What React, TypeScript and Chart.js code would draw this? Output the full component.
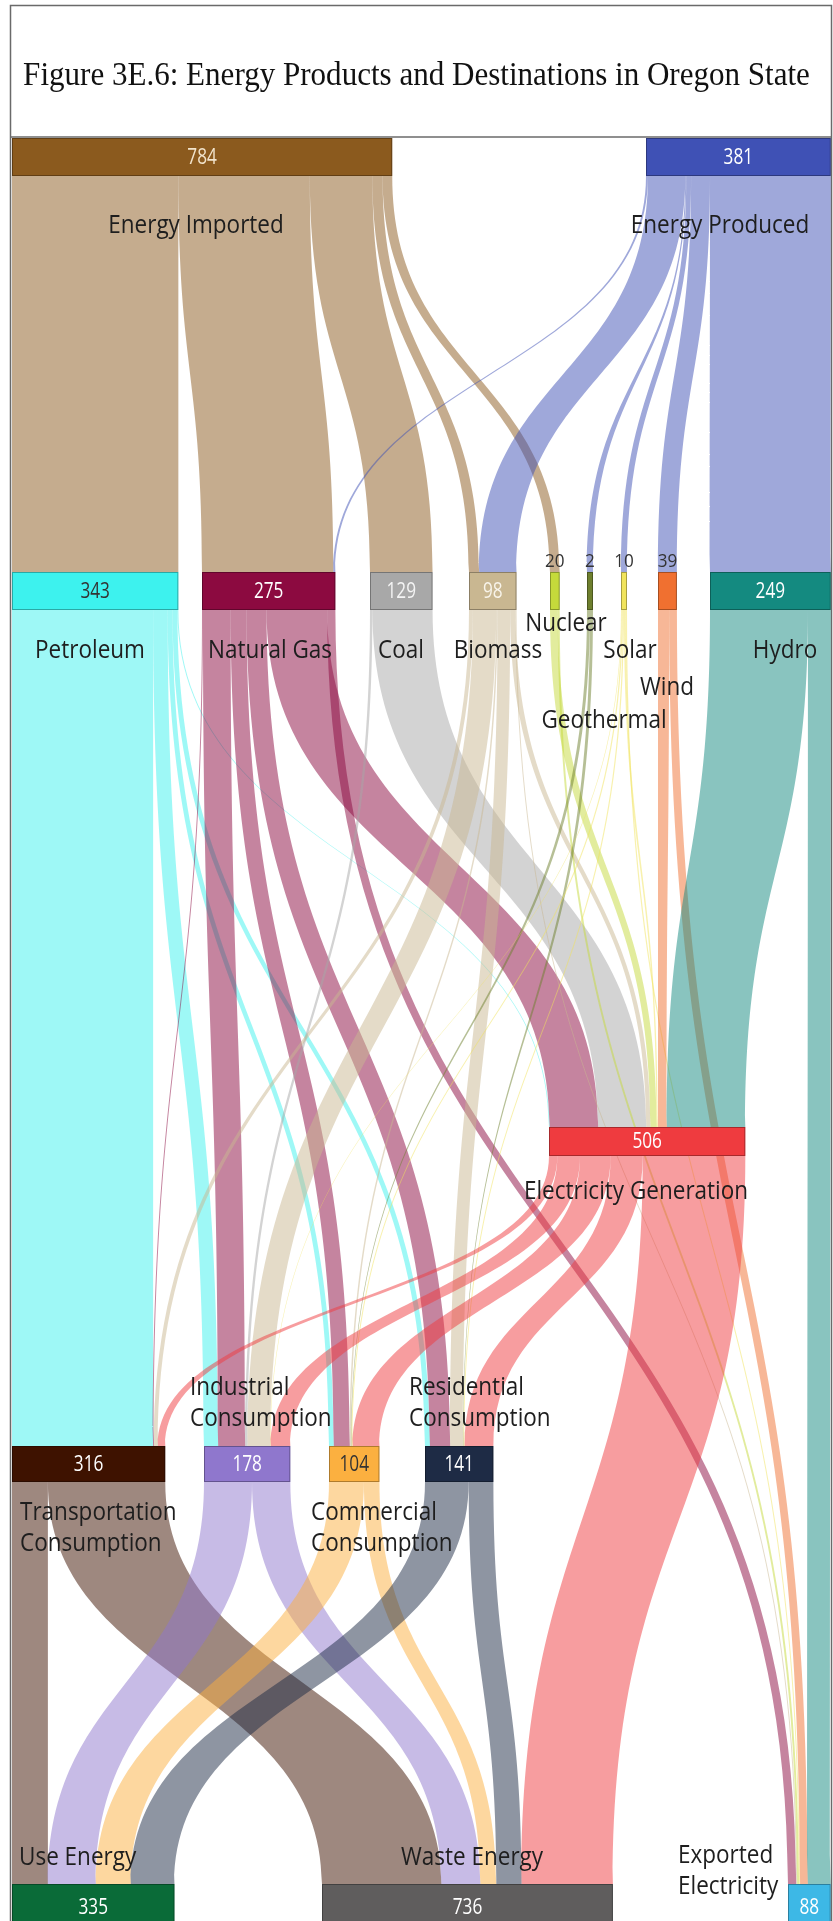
import React, { useEffect, useRef } from 'react';
import { Chart, registerables } from 'chart.js';

Chart.register(...registerables);

// ---------------- DATA ----------------
const TITLE = 'Figure 3E.6: Energy Products and Destinations in Oregon State';

const nodeNames = [
  'Energy Imported', 'Energy Produced',
  'Petroleum', 'Natural Gas', 'Coal', 'Biomass', 'Nuclear', 'Geothermal', 'Solar', 'Wind', 'Hydro',
  'Electricity Generation',
  'Transportation Consumption', 'Industrial Consumption', 'Commercial Consumption', 'Residential Consumption',
  'Use Energy', 'Waste Energy', 'Exported Electricity',
];
const nodeValues = [784, 381, 343, 275, 129, 98, 20, 2, 10, 39, 249, 506, 316, 178, 104, 141, 335, 736, 88];

const linkFrom = [
  'Energy Imported', 'Energy Imported', 'Energy Imported', 'Energy Imported', 'Energy Imported',
  'Energy Produced', 'Energy Produced', 'Energy Produced', 'Energy Produced', 'Energy Produced', 'Energy Produced',
  'Petroleum', 'Petroleum', 'Petroleum', 'Petroleum', 'Petroleum',
  'Natural Gas', 'Natural Gas', 'Natural Gas', 'Natural Gas', 'Natural Gas', 'Natural Gas',
  'Coal', 'Coal',
  'Biomass', 'Biomass', 'Biomass', 'Biomass', 'Biomass', 'Biomass',
  'Nuclear', 'Nuclear',
  'Geothermal', 'Geothermal',
  'Solar', 'Solar', 'Solar', 'Solar', 'Solar',
  'Wind', 'Wind',
  'Hydro', 'Hydro',
  'Electricity Generation', 'Electricity Generation', 'Electricity Generation', 'Electricity Generation', 'Electricity Generation',
  'Transportation Consumption', 'Transportation Consumption',
  'Industrial Consumption', 'Industrial Consumption',
  'Commercial Consumption', 'Commercial Consumption',
  'Residential Consumption', 'Residential Consumption',
];
const linkTo = [
  'Petroleum', 'Natural Gas', 'Coal', 'Biomass', 'Nuclear',
  'Natural Gas', 'Biomass', 'Geothermal', 'Solar', 'Wind', 'Hydro',
  'Transportation Consumption', 'Industrial Consumption', 'Commercial Consumption', 'Residential Consumption', 'Electricity Generation',
  'Transportation Consumption', 'Industrial Consumption', 'Commercial Consumption', 'Residential Consumption', 'Electricity Generation', 'Exported Electricity',
  'Industrial Consumption', 'Electricity Generation',
  'Transportation Consumption', 'Industrial Consumption', 'Commercial Consumption', 'Residential Consumption', 'Electricity Generation', 'Exported Electricity',
  'Electricity Generation', 'Exported Electricity',
  'Commercial Consumption', 'Residential Consumption',
  'Industrial Consumption', 'Commercial Consumption', 'Residential Consumption', 'Electricity Generation', 'Exported Electricity',
  'Electricity Generation', 'Exported Electricity',
  'Electricity Generation', 'Exported Electricity',
  'Transportation Consumption', 'Industrial Consumption', 'Commercial Consumption', 'Residential Consumption', 'Waste Energy',
  'Use Energy', 'Waste Energy',
  'Use Energy', 'Waste Energy',
  'Use Energy', 'Waste Energy',
  'Use Energy', 'Waste Energy',
];
const linkValues = [
  343, 271, 129, 21, 20,
  4, 77, 2, 10, 39, 249,
  291, 30, 10, 10, 2,
  2, 57, 33, 41, 125, 17,
  5, 124,
  8, 48, 3, 26, 11, 2,
  16, 4,
  1, 1,
  1, 2, 2, 3, 2,
  23, 16,
  202, 47,
  15, 41, 55, 58, 185,
  74, 242,
  99, 79,
  72, 32,
  90, 51,
];

// ---------------- LAYOUT / STYLE ----------------
const CW = 833;
const CH = 1921;
const UNIT = 0.485; // layout units per energy unit
const MIN_W = 6;
const rowTop = [138, 572, 1127, 1446, 1884];
const rowBottom = [176, 610, 1156, 1482, 1930];
const nodeRow = [0, 0, 1, 1, 1, 1, 1, 1, 1, 1, 1, 2, 3, 3, 3, 3, 4, 4, 4];
const nodeLeft = [12, 646, 12, 202, 370, 469, 550, 587, 621, 658, 710, 549, 12, 204, 329, 425, 12, 322, 788];
const nodeSizeFactor = [1, 1, 1, 1, 1, 1, 1, 1, 1, 1, 1, 0.8, 1, 1, 1, 1, 1, 0.815, 1];
const nodeColors = [
  '#8B5A1E', '#3F51B5', '#3DF2EE', '#8C0A40', '#A8A8A8', '#C9B791', '#C5DA3B', '#6E7F2E', '#F1E45C', '#F07030', '#148A80',
  '#EF3B3F', '#3E1200', '#8F77CD', '#FBB040', '#1E2B45', '#0A6B38', '#5F5D5D', '#3DB8E6',
];
const numberColors = [
  '#F2E4CC', '#FFFFFF', '#333333', '#FFFFFF', '#F4F4F4', '#F8F4EA', '#333333', '#333333', '#333333', '#333333', '#FFFFFF',
  '#FFFFFF', '#FFFFFF', '#FFFFFF', '#333333', '#FFFFFF', '#FFFFFF', '#FFFFFF', '#FFFFFF',
];
// label anchor (x, baseline y of first line), alignment, wrap into two lines
const labelX = [196, 720, 90, 270, 401, 498, 566, 604, 630, 667, 785, 636, 20, 190, 311, 409, 19, 472, 678];
const labelY = [233, 233, 658, 658, 658, 658, 631, 728, 658, 695, 658, 1199, 1520, 1395, 1520, 1395, 1865, 1865, 1863];
const labelAlign = ['center', 'center', 'center', 'center', 'center', 'center', 'center', 'center', 'center', 'center', 'center', 'center', 'left', 'left', 'left', 'left', 'left', 'center', 'left'];
const labelWrap = [false, false, false, false, false, false, false, false, false, false, false, false, true, true, true, true, false, false, true];
const LINE_H = 31;
const SQUEEZE = 0.9;
const LINK_ALPHA = 0.5;

function rgba(hex: string, a: number) {
  const n = parseInt(hex.slice(1), 16);
  return `rgba(${(n >> 16) & 255},${(n >> 8) & 255},${n & 255},${a})`;
}

function drawText(ctx: CanvasRenderingContext2D, text: string, x: number, y: number, font: string, color: string, align: CanvasTextAlign, sx: number, baseline: CanvasTextBaseline = 'alphabetic') {
  ctx.save();
  ctx.font = font;
  ctx.fillStyle = color;
  ctx.textAlign = align;
  ctx.textBaseline = baseline;
  ctx.translate(x, y);
  ctx.scale(sx, 1);
  ctx.fillText(text, 0, 0);
  ctx.restore();
}

const sankeyPlugin = {
  id: 'sankeyDraw',
  afterDatasetsDraw(chart: any) {
    const ctx: CanvasRenderingContext2D = chart.ctx;
    const xs = chart.scales.x;
    const ys = chart.scales.y;
    const X = (v: number) => xs.getPixelForValue(v);
    const Y = (v: number) => ys.getPixelForValue(v);

    const idx: Record<string, number> = {};
    nodeNames.forEach((n, i) => (idx[n] = i));

    const links = linkValues.map((v, k) => ({ s: idx[linkFrom[k]], t: idx[linkTo[k]], v, k }));
    const widths = nodeValues.map((v, i) => Math.max(MIN_W, v * UNIT * nodeSizeFactor[i]));
    const sumIn = nodeNames.map((_, n) => links.filter((l) => l.t === n).reduce((a, l) => a + l.v, 0));
    const sumOut = nodeNames.map((_, n) => links.filter((l) => l.s === n).reduce((a, l) => a + l.v, 0));
    const inScale = widths.map((w, n) => (sumIn[n] > 0 ? w / sumIn[n] : 0));
    const outScale = widths.map((w, n) => (sumOut[n] > 0 ? w / sumOut[n] : 0));
    const centers = nodeLeft.map((l, i) => l + widths[i] / 2);

    // positions of link ends along each node
    const srcStart: number[] = new Array(links.length).fill(0);
    const tgtStart: number[] = new Array(links.length).fill(0);
    nodeNames.forEach((_, n) => {
      const outs = links.filter((l) => l.s === n).sort((a, b) => centers[a.t] - centers[b.t]);
      let off = nodeLeft[n];
      outs.forEach((l) => { srcStart[l.k] = off; off += l.v * outScale[n]; });
      const ins = links.filter((l) => l.t === n).sort((a, b) => centers[a.s] - centers[b.s]);
      off = nodeLeft[n];
      ins.forEach((l) => { tgtStart[l.k] = off; off += l.v * inScale[n]; });
    });

    // frame
    ctx.save();
    ctx.strokeStyle = '#6a6a6a';
    ctx.lineWidth = 1.5;
    ctx.strokeRect(X(10.5), Y(5.5), X(831.5) - X(10.5), Y(1940) - Y(5.5));
    ctx.beginPath();
    ctx.moveTo(X(10.5), Y(137));
    ctx.lineTo(X(831.5), Y(137));
    ctx.stroke();
    ctx.restore();

    // title
    drawText(ctx, TITLE, X(CW / 2), Y(85), '34.5px "Liberation Serif", "Times New Roman", serif', '#111111', 'center', SQUEEZE);

    // links
    links.forEach((l) => {
      const s = l.s, t = l.t;
      const sx0 = X(srcStart[l.k]);
      const sx1 = X(srcStart[l.k] + l.v * outScale[s]);
      const tx0 = X(tgtStart[l.k]);
      const tx1 = X(tgtStart[l.k] + l.v * inScale[t]);
      const sy = Y(rowBottom[nodeRow[s]]);
      const ty = Y(rowTop[nodeRow[t]]);
      const my = (sy + ty) / 2;
      ctx.beginPath();
      ctx.moveTo(sx0, sy);
      ctx.bezierCurveTo(sx0, my, tx0, my, tx0, ty);
      ctx.lineTo(tx1, ty);
      ctx.bezierCurveTo(tx1, my, sx1, my, sx1, sy);
      ctx.closePath();
      ctx.fillStyle = rgba(nodeColors[s], LINK_ALPHA);
      ctx.fill();
    });

    // nodes
    nodeNames.forEach((_, n) => {
      const x0 = X(nodeLeft[n]);
      const x1 = X(nodeLeft[n] + widths[n]);
      const y0 = Y(rowTop[nodeRow[n]]);
      const y1 = Y(rowBottom[nodeRow[n]]);
      ctx.fillStyle = nodeColors[n];
      ctx.fillRect(x0, y0, x1 - x0, y1 - y0);
      ctx.strokeStyle = 'rgba(0,0,0,0.3)';
      ctx.lineWidth = 1;
      ctx.strokeRect(x0 + 0.5, y0 + 0.5, x1 - x0 - 1, y1 - y0 - 1);
      const txt = String(nodeValues[n]);
      if (x1 - x0 < 26) {
        drawText(ctx, txt, (x0 + x1) / 2, y0 - 5, '19px "Open Sans", sans-serif', '#333333', 'center', SQUEEZE);
      } else {
        drawText(ctx, txt, (x0 + x1) / 2, (y0 + y1) / 2 + 1, '21px "Open Sans", sans-serif', numberColors[n], 'center', 0.82, 'middle');
      }
    });

    // node labels
    nodeNames.forEach((name, n) => {
      const lines = labelWrap[n] ? name.split(' ') : [name];
      lines.forEach((line, i) => {
        drawText(ctx, line, X(labelX[n]), Y(labelY[n] + i * LINE_H), '25px "Open Sans", sans-serif', '#1E1E1E', labelAlign[n] as CanvasTextAlign, SQUEEZE);
      });
    });
  },
};

export default function App() {
  const ref = useRef<HTMLCanvasElement>(null);
  useEffect(() => {
    document.body.style.margin = '0';
    const chart = new Chart(ref.current as HTMLCanvasElement, {
      type: 'scatter',
      data: { datasets: [{ data: [], pointRadius: 0 }] },
      options: {
        animation: false,
        responsive: false,
        events: [],
        layout: { padding: 0 },
        plugins: { legend: { display: false }, tooltip: { enabled: false }, title: { display: false } },
        scales: {
          x: { type: 'linear', min: 0, max: CW, display: false },
          y: { type: 'linear', min: 0, max: CH, reverse: true, display: false },
        },
      },
      plugins: [sankeyPlugin],
    } as any);
    return () => chart.destroy();
  }, []);
  return (
    <div style={{ width: CW, height: CH, background: '#ffffff' }}>
      <canvas ref={ref} width={CW} height={CH} style={{ display: 'block' }} />
    </div>
  );
}
